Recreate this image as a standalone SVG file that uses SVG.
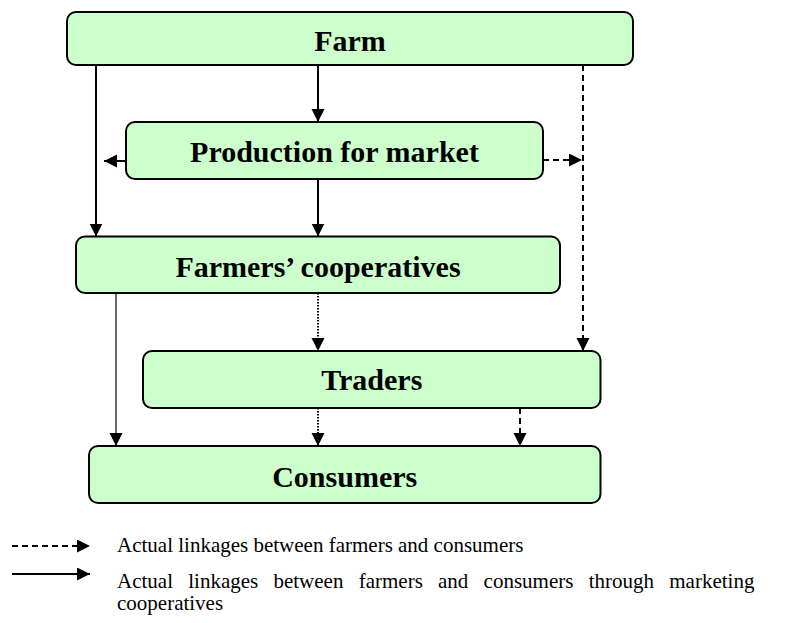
<svg xmlns="http://www.w3.org/2000/svg" width="796" height="623" viewBox="0 0 796 623">
  <style>
    .box { fill: #ccffcc; stroke: #000; stroke-width: 2; }
    .label { font-family: "Liberation Serif", "Times New Roman", serif; font-weight: bold; font-size: 30px; fill: #000; text-anchor: middle; }
    .legend { font-family: "Liberation Serif", "Times New Roman", serif; font-size: 21px; fill: #000; }
    .solid { stroke: #000; stroke-width: 2; fill: none; }
    .thin { stroke: #000; stroke-width: 1.2; fill: none; }
    .dashed { stroke: #000; stroke-width: 2; fill: none; stroke-dasharray: 6 4; }
    .dotted { stroke: #000; stroke-width: 2; fill: none; stroke-dasharray: 1.5 1.5; }
  </style>
  <defs>
    <marker id="arrow" markerUnits="userSpaceOnUse" markerWidth="14" markerHeight="14" refX="13" refY="6.5" orient="auto">
      <path d="M0,0 L13,6.5 L0,13 Z" fill="#000" stroke="none"/>
    </marker>
  </defs>

  <!-- connectors -->
  <g id="connectors">
    <line class="solid" x1="96" y1="65" x2="96" y2="236.5" marker-end="url(#arrow)"/>
    <line class="solid" x1="318" y1="65" x2="318" y2="122" marker-end="url(#arrow)"/>
    <line class="dashed" x1="583" y1="65" x2="583" y2="351" marker-end="url(#arrow)"/>
    <line class="solid" x1="126" y1="161" x2="104" y2="161" marker-end="url(#arrow)"/>
    <line class="dashed" x1="543" y1="160" x2="582" y2="160" marker-end="url(#arrow)"/>
    <line class="solid" x1="318" y1="179" x2="318" y2="236.5" marker-end="url(#arrow)"/>
    <line class="thin" x1="116" y1="293" x2="116" y2="446" marker-end="url(#arrow)"/>
    <line class="dotted" x1="318" y1="293" x2="318" y2="351" marker-end="url(#arrow)"/>
    <line class="dotted" x1="318" y1="408" x2="318" y2="446" marker-end="url(#arrow)"/>
    <line class="dashed" x1="520" y1="408" x2="520" y2="446" marker-end="url(#arrow)"/>
  </g>

  <g id="farm">
    <rect class="box" x="67" y="12" width="566" height="53" rx="9"/>
    <text class="label" x="350" y="51">Farm</text>
  </g>
  <g id="production">
    <rect class="box" x="126" y="122" width="417" height="57" rx="9"/>
    <text class="label" x="334.5" y="161.5">Production for market</text>
  </g>
  <g id="cooperatives">
    <rect class="box" x="76" y="236.5" width="484" height="56.5" rx="9"/>
    <text class="label" x="318" y="276.5">Farmers’ cooperatives</text>
  </g>
  <g id="traders">
    <rect class="box" x="143" y="351" width="457.5" height="57" rx="9"/>
    <text class="label" x="371.8" y="390">Traders</text>
  </g>
  <g id="consumers">
    <rect class="box" x="89" y="446" width="511.5" height="57" rx="9"/>
    <text class="label" x="344.7" y="487">Consumers</text>
  </g>

  <!-- key -->
  <g id="legend">
    <line class="dashed" x1="12" y1="546" x2="90" y2="546" stroke-dasharray="5 4" marker-end="url(#arrow)"/>
    <text class="legend" x="117" y="552">Actual linkages between farmers and consumers</text>
    <line class="solid" x1="12" y1="574" x2="90" y2="574" stroke-width="2.5" marker-end="url(#arrow)"/>
    <!-- justified first line of the wrapped entry -->
    <text class="legend" x="117" y="588" word-spacing="10">Actual linkages between farmers and consumers through marketing</text>
    <text class="legend" x="117" y="610">cooperatives</text>
  </g>
</svg>
